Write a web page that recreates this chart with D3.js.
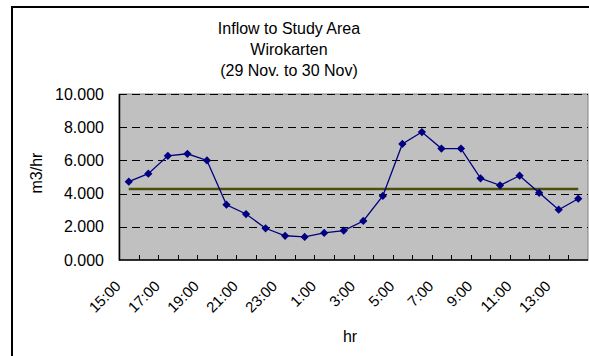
<!DOCTYPE html>
<html>
<head>
<meta charset="utf-8">
<script src="https://cdn.jsdelivr.net/npm/d3@7"></script>
<style>
  html, body { margin: 0; padding: 0; background: #fff; }
  svg { display: block; font-family: "Liberation Sans", Arial, sans-serif; }
</style>
</head>
<body>
<svg id="chart" width="589" height="356"></svg>
<script>
// Hourly inflow, 15:00 on 29 Nov through 14:00 on 30 Nov
const hours = ["15:00","16:00","17:00","18:00","19:00","20:00","21:00","22:00",
               "23:00","0:00","1:00","2:00","3:00","4:00","5:00","6:00",
               "7:00","8:00","9:00","10:00","11:00","12:00","13:00","14:00"];
const inflow = [4.72, 5.20, 6.28, 6.40, 6.00, 3.33, 2.77, 1.91,
                1.46, 1.39, 1.63, 1.77, 2.35, 3.86, 6.99, 7.71,
                6.71, 6.71, 4.92, 4.50, 5.08, 4.05, 3.03, 3.69];
// Daily average inflow
const averageInflow = [4.27];
// Every other hour is labelled on the axis
const hourLabels = ["15:00","17:00","19:00","21:00","23:00","1:00",
                    "3:00","5:00","7:00","9:00","11:00","13:00"];
const yTicks = [0, 2, 4, 6, 8, 10];
const titleLines = ["Inflow to Study Area", "Wirokarten", "(29 Nov. to 30 Nov)"];

const svg = d3.select("#chart");
const plot = { left: 119, right: 588, top: 94, bottom: 260 };

const x = d3.scaleBand().domain(hours).range([plot.left, plot.right]).padding(0);
const y = d3.scaleLinear().domain([0, 10]).range([plot.bottom, plot.top]);
const cx = h => x(h) + x.bandwidth() / 2;

// Outer chart frame
svg.append("rect")
  .attr("x", 12).attr("y", 7).attr("width", 640).attr("height", 420)
  .attr("fill", "#fff").attr("stroke", "#000").attr("stroke-width", 2);

// Title
svg.append("g").selectAll("text").data(titleLines).join("text")
  .attr("x", 289).attr("y", (d, i) => 34 + i * 21)
  .attr("text-anchor", "middle").attr("font-size", 16).attr("fill", "#000")
  .text(d => d);

// Plot area
svg.append("rect")
  .attr("x", plot.left).attr("y", plot.top)
  .attr("width", plot.right - plot.left).attr("height", plot.bottom - plot.top)
  .attr("fill", "#c0c0c0").attr("stroke", "#808080").attr("stroke-width", 1);

// Dashed gridlines
svg.append("g").selectAll("line").data(yTicks.filter(t => t > 0)).join("line")
  .attr("x1", plot.left).attr("x2", plot.right)
  .attr("y1", d => Math.round(y(d)) + 0.5).attr("y2", d => Math.round(y(d)) + 0.5)
  .attr("stroke", "#000").attr("stroke-width", 1).attr("stroke-dasharray", "8,5");

// Y axis
const yAxis = d3.axisLeft(y).tickValues(yTicks).tickSize(0).tickPadding(15)
  .tickFormat(d3.format(".3f"));
const yg = svg.append("g").attr("transform", `translate(${plot.left},0)`).call(yAxis);
yg.select(".domain").attr("stroke", "#000").attr("stroke-width", 1.5);
yg.selectAll("text").attr("font-size", 16).attr("fill", "#000")
  .attr("font-family", "\"Liberation Sans\", Arial, sans-serif");

// X axis: inside tick marks on category boundaries
const xg = svg.append("g");
xg.append("line")
  .attr("x1", plot.left).attr("x2", plot.right)
  .attr("y1", plot.bottom).attr("y2", plot.bottom)
  .attr("stroke", "#000").attr("stroke-width", 1.5);
xg.selectAll("line.tick").data(hours.slice(1)).join("line").attr("class", "tick")
  .attr("x1", d => Math.round(x(d)) + 0.5).attr("x2", d => Math.round(x(d)) + 0.5)
  .attr("y1", plot.bottom).attr("y2", plot.bottom - 5)
  .attr("stroke", "#000").attr("stroke-width", 1);
xg.selectAll("text").data(hourLabels).join("text")
  .attr("transform", d => `translate(${cx(d) - 7},${plot.bottom + 27}) rotate(-45)`)
  .attr("text-anchor", "end").attr("font-size", 15).attr("fill", "#000")
  .text(d => d);

// Axis titles
svg.append("text").attr("x", 350).attr("y", 342).attr("text-anchor", "middle")
  .attr("font-size", 16).text("hr");
svg.append("text").attr("transform", "translate(42,173) rotate(-90)")
  .attr("text-anchor", "middle").attr("font-size", 16).text("m3/hr");

// Average line across all hours
svg.append("line")
  .attr("x1", cx(hours[0])).attr("x2", cx(hours[hours.length - 1]))
  .attr("y1", y(averageInflow[0])).attr("y2", y(averageInflow[0]))
  .attr("stroke", "#4d4d0c").attr("stroke-width", 2.5);

// Inflow series
svg.append("path").datum(inflow)
  .attr("fill", "none").attr("stroke", "#000080").attr("stroke-width", 1.3)
  .attr("d", d3.line().x((d, i) => cx(hours[i])).y(d => y(d)));

svg.append("g").selectAll("path").data(inflow).join("path")
  .attr("transform", (d, i) => `translate(${cx(hours[i])},${y(d)}) rotate(45)`)
  .attr("d", d3.symbol(d3.symbolSquare, 34))
  .attr("fill", "#000080");
</script>
</body>
</html>
